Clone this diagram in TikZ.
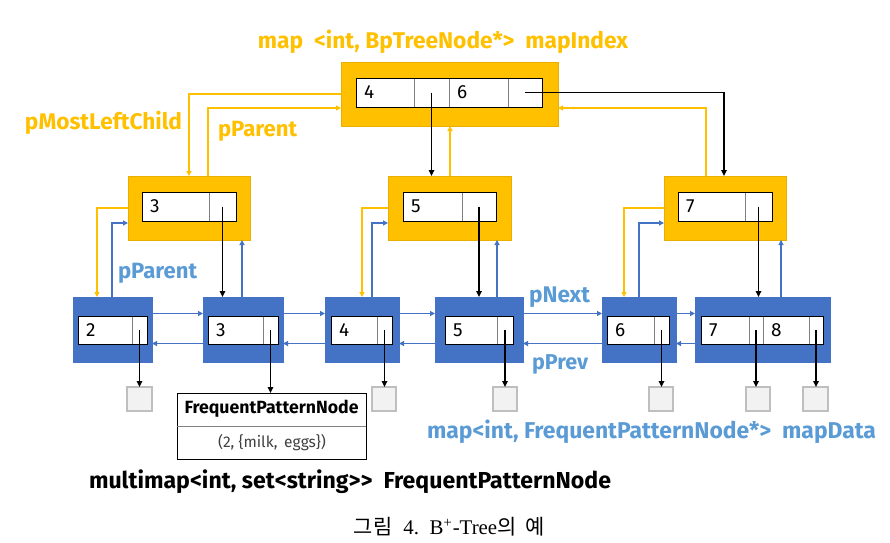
\documentclass[tikz,border=0pt]{standalone}
\usepackage{fontspec}
\setmainfont{Fira Sans}
\newfontfamily\cjk{Noto Sans CJK KR}
\newfontfamily\capserif{Liberation Serif}
\usetikzlibrary{arrows.meta}
\definecolor{yel}{HTML}{FFC000}
\definecolor{yelB}{HTML}{E8AE00}
\definecolor{blu}{HTML}{4472C4}
\definecolor{bluT}{HTML}{5B9BD5}
\definecolor{grayB}{HTML}{BFBFBF}
\definecolor{grayF}{HTML}{F2F2F2}
\definecolor{divg}{HTML}{808080}
\tikzset{
 ynode/.style={draw=yelB, fill=yel, line width=0.6pt},
 bnode/.style={draw=blu, fill=blu, line width=0.6pt},
 cell/.style={draw=divg, fill=white, line width=0.8pt},
 dbox/.style={draw=grayB, fill=grayF, line width=1.3pt},
 fpnbox/.style={draw=black, fill=white, line width=0.8pt},
 ptr/.style={black, line width=1.5pt, -{Triangle[length=6pt,width=5.5pt]}},
 yarr/.style={yel, line width=1.2pt, -{Triangle[length=5pt,width=5pt]}},
 barr/.style={blu, line width=1.2pt, -{Triangle[length=5pt,width=5pt]}},
 num/.style={anchor=west, inner sep=0pt, font=\fontsize{19}{19}\selectfont},
 lbl/.style={inner sep=0pt},
}
\newcommand\mkbox[6]{\node[#6, inner sep=0pt, outer sep=0pt, minimum width={(#4-#2)*1pt}, minimum height={(#5-#3)*1pt}] (#1) at ({(#2+#4)/2},{(#3+#5)/2}) {};}
\newcommand\mklab[5]{\node[lbl, text=#4] (#1) at (#2) {\resizebox{#3pt}{!}{\bfseries #5}};}
\newcommand\mknum[3]{\node[num] (#1) at ([xshift=8pt]#2.west) {#3};}
\begin{document}
\begin{tikzpicture}[x=1pt,y=-1pt]
\useasboundingbox (0,0) rectangle (890,542);
% ---------- outer boxes ----------
\mkbox{root}{341}{62}{558}{126}{ynode}
\mkbox{n3}{128}{176}{250}{240}{ynode}
\mkbox{n5}{388}{176}{511}{240}{ynode}
\mkbox{n7}{664}{176}{786}{240}{ynode}
\mkbox{l2}{73}{297}{152}{362}{bnode}
\mkbox{l3}{203}{297}{283}{362}{bnode}
\mkbox{l4}{325}{297}{399}{362}{bnode}
\mkbox{l5}{435}{297}{523}{362}{bnode}
\mkbox{l6}{602}{297}{676}{362}{bnode}
\mkbox{l78}{695}{297}{830}{362}{bnode}
% ---------- cells ----------
\mkbox{r1}{356}{78}{414}{107}{cell}
\mkbox{r2}{414}{78}{449}{107}{cell}
\mkbox{r3}{449}{78}{508}{107}{cell}
\mkbox{r4}{508}{78}{542}{107}{cell}
\draw[black, line width=0.9pt] (r1.north west) rectangle (r4.south east);
\mkbox{a1}{142}{192}{209}{221}{cell}
\mkbox{a2}{209}{192}{236}{221}{cell}
\draw[black, line width=0.9pt] (a1.north west) rectangle (a2.south east);
\mkbox{b1}{403}{192}{462}{221}{cell}
\mkbox{b2}{462}{192}{496}{221}{cell}
\draw[black, line width=0.9pt] (b1.north west) rectangle (b2.south east);
\mkbox{c1}{678}{192}{745}{221}{cell}
\mkbox{c2}{745}{192}{772}{221}{cell}
\draw[black, line width=0.9pt] (c1.north west) rectangle (c2.south east);
\mkbox{e1}{78}{316}{132}{344}{cell}
\mkbox{e2}{132}{316}{147}{344}{cell}
\draw[black, line width=0.9pt] (e1.north west) rectangle (e2.south east);
\mkbox{f1}{208}{316}{263}{344}{cell}
\mkbox{f2}{263}{316}{278}{344}{cell}
\draw[black, line width=0.9pt] (f1.north west) rectangle (f2.south east);
\mkbox{g1}{331}{316}{377}{344}{cell}
\mkbox{g2}{377}{316}{392}{344}{cell}
\draw[black, line width=0.9pt] (g1.north west) rectangle (g2.south east);
\mkbox{h1}{445}{316}{497}{344}{cell}
\mkbox{h2}{497}{316}{513}{344}{cell}
\draw[black, line width=0.9pt] (h1.north west) rectangle (h2.south east);
\mkbox{i1}{607}{316}{654}{344}{cell}
\mkbox{i2}{654}{316}{669}{344}{cell}
\draw[black, line width=0.9pt] (i1.north west) rectangle (i2.south east);
\mkbox{j1}{701}{316}{749}{344}{cell}
\mkbox{j2}{749}{316}{763}{344}{cell}
\mkbox{j3}{763}{316}{809}{344}{cell}
\mkbox{j4}{809}{316}{823}{344}{cell}
\draw[black, line width=0.9pt] (j1.north west) rectangle (j4.south east);
% ---------- numbers ----------
\mknum{tr1}{r1}{4}
\mknum{tr3}{r3}{6}
\mknum{ta1}{a1}{3}
\mknum{tb1}{b1}{5}
\mknum{tc1}{c1}{7}
\mknum{te1}{e1}{2}
\mknum{tf1}{f1}{3}
\mknum{tg1}{g1}{4}
\mknum{th1}{h1}{5}
\mknum{ti1}{i1}{6}
\mknum{tj1}{j1}{7}
\mknum{tj3}{j3}{8}
% ---------- data boxes ----------
\mkbox{d2}{127}{387}{152}{411}{dbox}
\mkbox{d4}{372}{387}{396}{411}{dbox}
\mkbox{d5}{493}{387}{517}{411}{dbox}
\mkbox{d6}{649}{387}{673}{411}{dbox}
\mkbox{d7}{746}{387}{770}{411}{dbox}
\mkbox{d8}{803}{387}{828}{411}{dbox}
\mkbox{fpn}{177}{393}{366}{459}{fpnbox}
\draw[divg, line width=0.8pt] (fpn.west |- 0,426) -- (fpn.east |- 0,426);
\node[lbl] (fpnT) at (271.5,409) {\resizebox{174pt}{!}{\bfseries FrequentPatternNode}};
\node[lbl, text=black!75] (fpnS) at (272,443) {\resizebox{108pt}{!}{(2, \{milk,\, eggs\})}};
% ---------- yellow connectors (index level) ----------
\draw[yarr] (root.west) -| ([xshift=61pt]n3.north west);
\draw[yarr] ([xshift=80pt]n3.north west) |- ([yshift=-14pt]root.west);
\coordinate (y5) at ([xshift=62pt]n5.north west);
\draw[yarr] (y5) -- (y5 |- root.south);
\draw[yarr] ([xshift=42pt]n7.north west) |- ([yshift=-14pt]root.east);
% black pointers from root
\draw[ptr] (r2.center) -- (r2.center |- n5.north);
\draw[ptr] (r4.center) -| ([xshift=60pt]n7.north west);
% ---------- yellow / blue between level 2 and leaves ----------
\draw[yarr] (n3.west) -| ([xshift=24pt]l2.north west);
\draw[barr] ([xshift=39pt]l2.north west) |- ([yshift=-15pt]n3.west);
\coordinate (u3) at ([xshift=39pt]l3.north west);
\draw[barr] (u3) -- (u3 |- n3.south);
\draw[yarr] (n5.west) -| ([xshift=37pt]l4.north west);
\draw[barr] ([xshift=47pt]l4.north west) |- ([yshift=-15pt]n5.west);
\coordinate (u5) at ([xshift=62pt]l5.north west);
\draw[barr] (u5) -- (u5 |- n5.south);
\draw[yarr] (n7.west) -| ([xshift=22pt]l6.north west);
\draw[barr] ([xshift=37pt]l6.north west) |- ([yshift=-15pt]n7.west);
\coordinate (u7) at ([xshift=86pt]l78.north west);
\draw[barr] (u7) -- (u7 |- n7.south);
% black pointers level 2 -> leaves
\draw[ptr] (a2.center) -- (a2.center |- l3.north);
\draw[ptr] (b2.center) -- (b2.center |- l5.north);
\draw[ptr] (c2.center) -- (c2.center |- l78.north);
% ---------- leaf links ----------
\draw[barr] ([yshift=16pt]l2.east) -- ([yshift=16pt]l3.west);
\draw[barr] ([yshift=-14pt]l3.west) -- ([yshift=-14pt]l2.east);
\draw[barr] ([yshift=16pt]l3.east) -- ([yshift=16pt]l4.west);
\draw[barr] ([yshift=-14pt]l4.west) -- ([yshift=-14pt]l3.east);
\draw[barr] ([yshift=16pt]l4.east) -- ([yshift=16pt]l5.west);
\draw[barr] ([yshift=-14pt]l5.west) -- ([yshift=-14pt]l4.east);
\draw[barr] ([yshift=16pt]l5.east) -- ([yshift=16pt]l6.west);
\draw[barr] ([yshift=-14pt]l6.west) -- ([yshift=-14pt]l5.east);
\draw[barr] ([yshift=16pt]l6.east) -- ([yshift=16pt]l78.west);
\draw[barr] ([yshift=-14pt]l78.west) -- ([yshift=-14pt]l6.east);
% leaf data pointers
\draw[ptr] (e2.center) -- (e2.center |- d2.north);
\draw[ptr] (f2.center) -- (f2.center |- fpn.north);
\draw[ptr] (g2.center) -- (g2.center |- d4.north);
\draw[ptr] (h2.center) -- (h2.center |- d5.north);
\draw[ptr] (i2.center) -- (i2.center |- d6.north);
\draw[ptr] (j2.center) -- (j2.center |- d7.north);
\draw[ptr] (j4.center) -- (j4.center |- d8.north);
% ---------- labels ----------
\mklab{tTitle}{443,42}{370}{yel}{map\ \ <int, BpTreeNode*>\ \ mapIndex}
\mklab{tMLC}{103.5,123}{157}{yel}{pMostLeftChild}
\mklab{tPPy}{257.5,131}{79}{yel}{pParent}
\mklab{tPPb}{157.5,273}{79}{bluT}{pParent}
\mklab{tNext}{559.5,297}{61}{bluT}{pNext}
\mklab{tPrev}{560,364}{56}{bluT}{pPrev}
\mklab{tMapD}{651.5,432}{449}{bluT}{map<int, FrequentPatternNode*>\ \ mapData}
\mklab{tMulti}{350,482}{522}{black}{multimap<int, set<string>{}>\ \ FrequentPatternNode}
\node[lbl] (tCap) at (449.5,527) {\resizebox{191pt}{!}{{\cjk 그림}\ \ {\capserif 4.\ \ B\textsuperscript{+}-Tree}{\cjk 의\ \ 예}}};
\end{tikzpicture}
\end{document}
